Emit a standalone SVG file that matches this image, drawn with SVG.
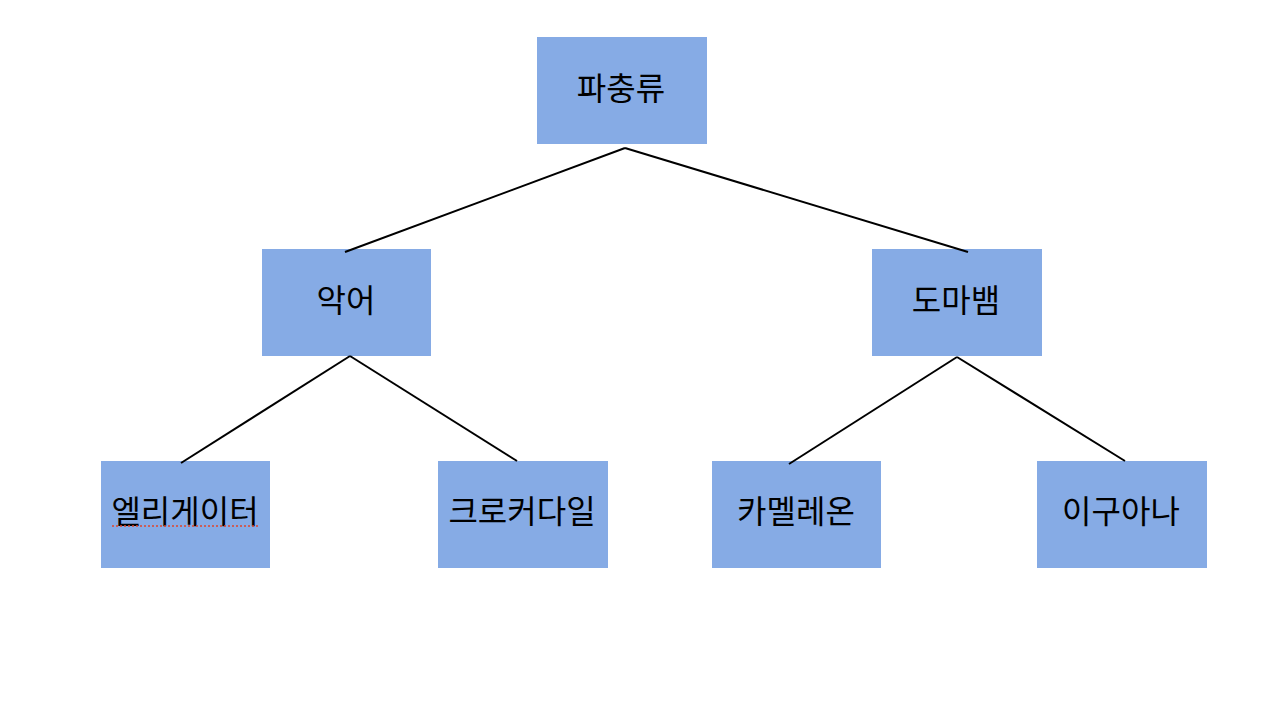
<svg xmlns="http://www.w3.org/2000/svg" width="1280" height="718" viewBox="0 0 1280 718">
<style>
.box{fill:#86abe5}
.lbl{font-family:"Noto Sans CJK KR","Noto Sans",sans-serif;font-size:32px;font-weight:400;fill:#000;text-anchor:middle;dominant-baseline:central}
.edge{stroke:#000;stroke-width:2;fill:none}
</style>
<rect width="1280" height="718" fill="#fff"/>
<g id="n-root"><rect class="box" x="537" y="37" width="170" height="107"/><text class="lbl" x="621" y="86">파충류</text></g>
<g id="n-croc"><rect class="box" x="262" y="249" width="169" height="107"/><text class="lbl" x="346" y="298">악어</text></g>
<g id="n-snake"><rect class="box" x="872" y="249" width="170" height="107"/><text class="lbl" x="956" y="298">도마뱀</text></g>
<g id="n-alligator"><rect class="box" x="101" y="461" width="169" height="107"/><text class="lbl" x="185" y="509">엘리게이터</text><line x1="112" y1="526" x2="259" y2="526" stroke="#e0452b" stroke-width="1.5" stroke-dasharray="2,2"/></g>
<g id="n-crocodile"><rect class="box" x="438" y="461" width="170" height="107"/><text class="lbl" x="522" y="509">크로커다일</text></g>
<g id="n-chameleon"><rect class="box" x="712" y="461" width="169" height="107"/><text class="lbl" x="796" y="509">카멜레온</text></g>
<g id="n-iguana"><rect class="box" x="1037" y="461" width="170" height="107"/><text class="lbl" x="1121" y="509">이구아나</text></g>
<g id="connectors">
<line class="edge" x1="625" y1="148" x2="345" y2="252"/>
<line class="edge" x1="625" y1="148" x2="968" y2="252"/>
<line class="edge" x1="350" y1="356" x2="181" y2="463"/>
<line class="edge" x1="350" y1="356" x2="517" y2="461"/>
<line class="edge" x1="957" y1="357" x2="789" y2="464"/>
<line class="edge" x1="957" y1="357" x2="1125" y2="461"/>
</g>
</svg>
